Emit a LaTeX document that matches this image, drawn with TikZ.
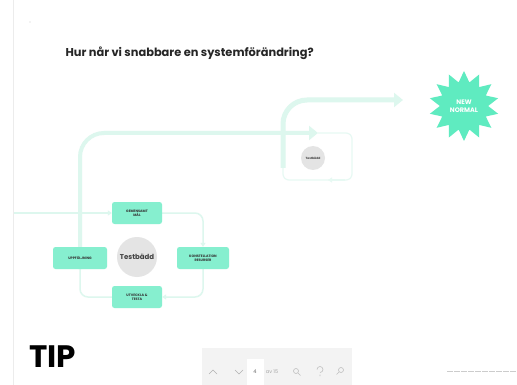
\documentclass[tikz,border=0pt]{standalone}
\usepackage{fontspec}
\setmainfont{Poppins}
\usepackage{tikz}
\usetikzlibrary{arrows.meta,positioning,shapes.geometric}
\definecolor{mint}{HTML}{86EFCF}
\definecolor{mintpale}{HTML}{DDF7EE}
\definecolor{mintstar}{HTML}{5FEBC0}
\definecolor{bedgray}{HTML}{E4E4E4}
\definecolor{barbg}{HTML}{F3F3F3}
\pgfdeclarelayer{background}
\pgfsetlayers{background,main}

\begin{document}
\begin{tikzpicture}[x=1pt,y=-1pt,
    stepbox/.style={fill=mint,rounded corners=2.5pt,minimum width=50pt,minimum height=22pt,inner sep=1pt,align=center,text=black!80,font=\bfseries\fontsize{3.4}{4}\selectfont},
    band/.style={mintpale,line width=5pt,rounded corners=24pt},
    loopline/.style={mintpale,line width=1.5pt,rounded corners=8pt},
    looptip/.style={-{Triangle[length=4pt,width=5pt]}},
    bandtip/.style={-{Triangle[length=9pt,width=14pt]}},
    bedcircle/.style={circle,fill=bedgray,inner sep=0pt,font=\bfseries}]
    \useasboundingbox (0,0) rectangle (517,385);

    % Page edge
    \draw[gray!15,line width=0.8pt] (13,0) -- (13,385);
    \fill[gray!40] (30,22) circle (0.6pt);

    % Title
    \node[anchor=west,text=black!85,font=\bfseries\fontsize{11.4}{13}\selectfont] (title) at (62,53) {Hur når vi snabbare en systemförändring?};

    % The test bed cycle
    \node[bedcircle,minimum size=40pt,font=\bfseries\fontsize{7}{8}\selectfont,text=black!75] (bed) at (137,257) {Testbädd};
    \node[stepbox] (mal) at (137,213) {GEMENSAMT\\MÅL};
    \node[stepbox,minimum width=52pt] (resurs) at (203,258) {KONSTELLATION\\RESURSER};
    \node[stepbox] (utv) at (137,297) {UTVECKLA \&\\TESTA};
    \node[stepbox,minimum width=54pt] (uppf) at (80,258) {UPPFÖLJNING};
    \coordinate (entry) at (13,213);

    % Big bands towards the new normal
    \coordinate (bend1) at (80,133);
    \coordinate (tip1) at (318,133);
    \coordinate (start2) at (283,168);
    \coordinate (bend2) at (283,100);
    \coordinate (tip2) at (403,100);

    % Small test bed further on
    \coordinate (sloopne) at (352,133);
    \coordinate (sloopse) at (352,180);
    \coordinate (sloopsw) at (283,180);
    \node[bedcircle,minimum size=24pt,font=\bfseries\fontsize{3}{3.5}\selectfont,text=black!75] (bedsmall) at (313,158) {Testbädd};

    \begin{pgfonlayer}{background}
    \fill[white] (0,0) rectangle (517,385);
    \draw[mintpale!70,line width=1.2pt,rounded corners=6pt] (tip1) -- (sloopne) -- (sloopse) -- (sloopsw) -- (start2);
    \draw[mintpale!70,line width=1.2pt,looptip] (345,180) -- (328,180);
    \draw[band,bandtip] (start2) -- (bend2) -- (tip2);
    \draw[band,line width=4pt,bandtip] (uppf.south) -- (bend1) -- (tip1);

    % Cycle connectors
    \draw[loopline,looptip] (entry) -- (mal.west);
    \draw[loopline,looptip] (mal.east) -| (resurs.north);
    \draw[loopline,looptip] (resurs.south) |- (utv.east);
    \draw[loopline] (utv.west) -| (uppf.south);
    \end{pgfonlayer}

    % New normal
    \node[star,star points=14,star point ratio=1.45,fill=mintstar,minimum size=70pt,inner sep=0pt,text=white,align=center,font=\bfseries\fontsize{6.5}{7.5}\selectfont] (newnormal) at (464,106) {NEW\\NORMAL};

    % Footer
    \node[anchor=west,font=\bfseries\fontsize{31}{31}\selectfont] (tip) at (26,357) {TIP};
    \fill[barbg] (202,348) rectangle (352,385);
    \draw[gray!60,line width=0.7pt] (209,374) -- (213,370) -- (217,374);
    \draw[gray!60,line width=0.7pt] (235,370) -- (239,374) -- (243,370);
    \node[fill=white,minimum width=17pt,minimum height=26pt,inner sep=0pt,text=gray!80!black,font=\fontsize{5}{6}\selectfont] (pagebox) at (255,372) {4};
    \node[right=2pt of pagebox,inner sep=0pt,text=gray!70,font=\fontsize{5}{6}\selectfont] (pagecount) {av 15};
    \draw[gray!50,line width=0.6pt] (296,371) circle (2.5pt) (298,373) -- (300.5,375.5);
    \draw[gray!50,line width=0.6pt] (317,369.5) arc (180:-90:3pt) (320,374.5) -- (320,376);
    \draw[gray!50,line width=0.6pt] (341,370) circle (2.5pt) (339,372) -- (336.5,374.5);
    \draw[gray!40,line width=0.8pt,dash pattern=on 6pt off 1pt] (447,371) -- (517,371);
\end{tikzpicture}
\end{document}
